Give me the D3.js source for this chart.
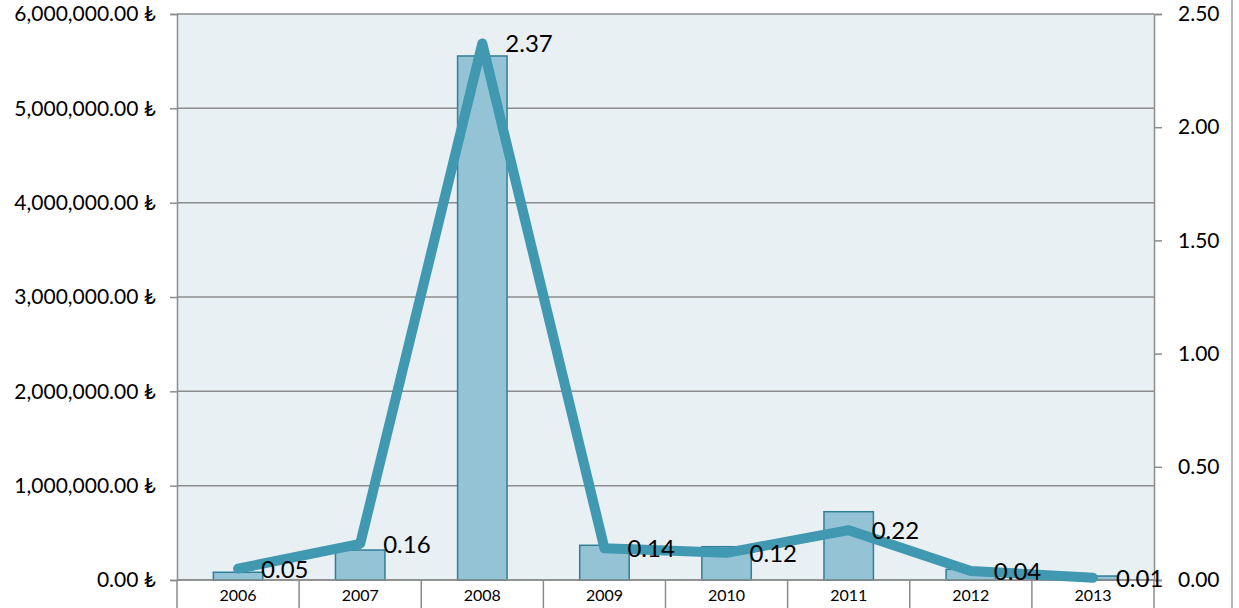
<!DOCTYPE html>
<html>
<head>
<meta charset="utf-8">
<script src="https://cdn.jsdelivr.net/npm/d3@7"></script>
<style>
  body { margin: 0; background: #fff; }
  text { font-family: Lato, "Open Sans", sans-serif; fill: #000; }
</style>
</head>
<body>
<div id="chart"></div>
<script>
const years = ["2006", "2007", "2008", "2009", "2010", "2011", "2012", "2013"];
const amounts = [82000, 318000, 5555000, 368000, 353000, 724000, 113000, 42000];
const ratios = [0.05, 0.16, 2.37, 0.14, 0.12, 0.22, 0.04, 0.01];
const leftTicks = [0, 1000000, 2000000, 3000000, 4000000, 5000000, 6000000];
const rightTicks = [0, 0.5, 1, 1.5, 2, 2.5];

const width = 1239;
const height = 608;
const margin = { top: 14, right: 85, bottom: 28, left: 177 };
const innerW = width - margin.left - margin.right;
const innerH = height - margin.top - margin.bottom;

const svg = d3
  .select("#chart")
  .append("svg")
  .attr("width", width)
  .attr("height", height);

const x = d3.scaleBand().domain(years).range([margin.left, width - margin.right]);
const yLeft = d3.scaleLinear().domain([0, 6000000]).range([height - margin.bottom, margin.top]);
const yRight = d3.scaleLinear().domain([0, 2.5]).range([height - margin.bottom, margin.top]);

// plot background
svg
  .append("rect")
  .attr("x", margin.left)
  .attr("y", margin.top)
  .attr("width", innerW)
  .attr("height", innerH)
  .attr("fill", "#e9f0f4");

// outer frame line on the right
svg
  .append("line")
  .attr("x1", 1232)
  .attr("x2", 1232)
  .attr("y1", 0)
  .attr("y2", height)
  .attr("stroke", "#a0a0a0")
  .attr("stroke-width", 1.5);

// gridlines
svg
  .append("g")
  .selectAll("line")
  .data(leftTicks)
  .enter()
  .append("line")
  .attr("x1", margin.left)
  .attr("x2", width - margin.right)
  .attr("y1", (d) => yLeft(d))
  .attr("y2", (d) => yLeft(d))
  .attr("stroke", "#8c8c8c")
  .attr("stroke-width", 1.5);

const liraFormat = (d) => d3.format(",.2f")(d) + " \u20BA";

// left axis
const gLeft = svg
  .append("g")
  .attr("transform", "translate(" + margin.left + ",0)")
  .call(d3.axisLeft(yLeft).tickValues(leftTicks).tickFormat(liraFormat).tickSize(7).tickPadding(14));
gLeft.selectAll("path, line").attr("stroke", "#8c8c8c").attr("stroke-width", 1.5);
gLeft.selectAll("text").style("font-size", "21px").attr("fill", "#000");

// right axis
const gRight = svg
  .append("g")
  .attr("transform", "translate(" + (width - margin.right) + ",0)")
  .call(d3.axisRight(yRight).tickValues(rightTicks).tickFormat(d3.format(".2f")).tickSize(8).tickPadding(16));
gRight.selectAll("path, line").attr("stroke", "#8c8c8c").attr("stroke-width", 1.5);
gRight.selectAll("text").style("font-size", "21px").attr("fill", "#000");

// category dividers below the axis
const bounds = years.map((d) => x(d)).concat([x(years[years.length - 1]) + x.bandwidth()]);
svg
  .append("g")
  .selectAll("line")
  .data(bounds)
  .enter()
  .append("line")
  .attr("x1", (d) => d)
  .attr("x2", (d) => d)
  .attr("y1", height - margin.bottom)
  .attr("y2", height)
  .attr("stroke", "#8c8c8c")
  .attr("stroke-width", 1.5);

svg
  .append("g")
  .selectAll("text")
  .data(years)
  .enter()
  .append("text")
  .attr("x", (d) => x(d) + x.bandwidth() / 2)
  .attr("y", height - margin.bottom + 21)
  .attr("text-anchor", "middle")
  .style("font-size", "16px")
  .text((d) => d);

// bars
const barW = x.bandwidth() * 0.405;
svg
  .append("g")
  .selectAll("rect")
  .data(amounts)
  .enter()
  .append("rect")
  .attr("x", (d, i) => x(years[i]) + (x.bandwidth() - barW) / 2)
  .attr("y", (d) => yLeft(d))
  .attr("width", barW)
  .attr("height", (d) => yLeft(0) - yLeft(d))
  .attr("fill", "#93c3d5")
  .attr("stroke", "#2f7f97")
  .attr("stroke-width", 1.5);

// bottom axis line over the bars
svg
  .append("line")
  .attr("x1", margin.left)
  .attr("x2", width - margin.right)
  .attr("y1", yLeft(0))
  .attr("y2", yLeft(0))
  .attr("stroke", "#8c8c8c")
  .attr("stroke-width", 1.5);

// ratio line
const line = d3
  .line()
  .x((d, i) => x(years[i]) + x.bandwidth() / 2)
  .y((d) => yRight(d));

svg
  .append("path")
  .datum(ratios)
  .attr("d", line)
  .attr("fill", "none")
  .attr("stroke", "#4098b1")
  .attr("stroke-width", 10)
  .attr("stroke-linejoin", "round")
  .attr("stroke-linecap", "round");

svg
  .append("g")
  .selectAll("text")
  .data(ratios)
  .enter()
  .append("text")
  .attr("x", (d, i) => x(years[i]) + x.bandwidth() / 2 + 23)
  .attr("y", (d) => yRight(d) + 9)
  .style("font-size", "24px")
  .text((d) => d3.format(".2f")(d));
</script>
</body>
</html>
